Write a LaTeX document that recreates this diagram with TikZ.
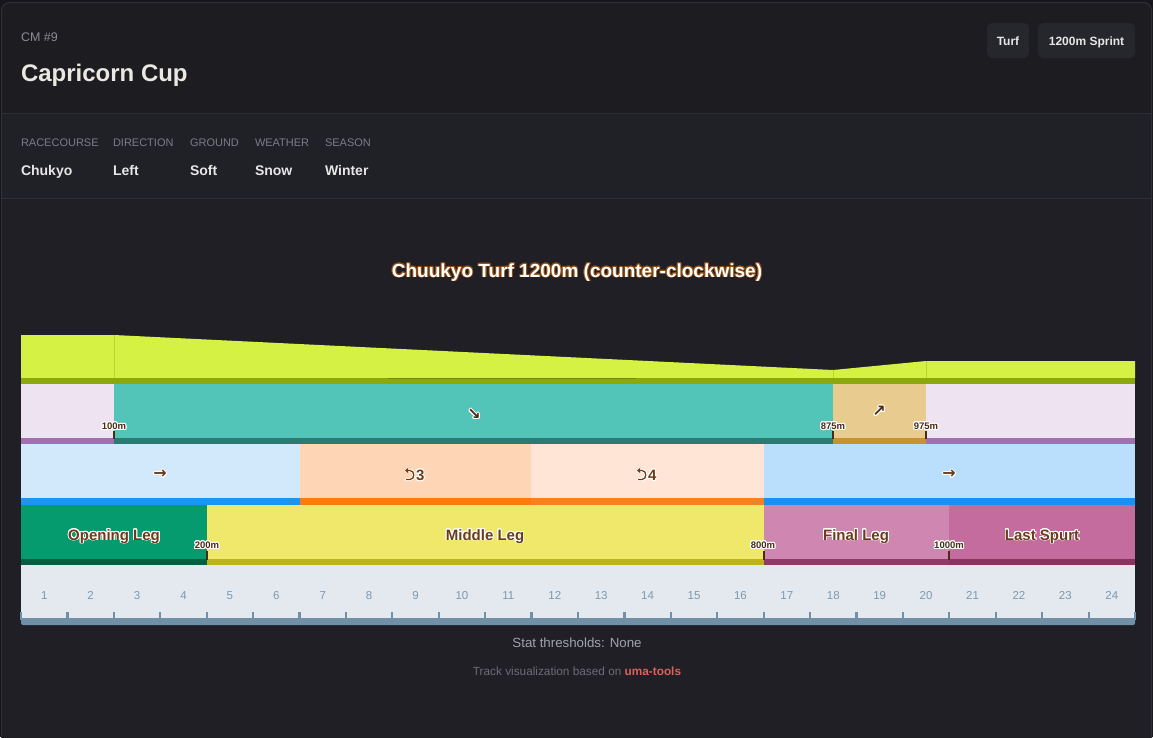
\documentclass[tikz,border=0pt]{standalone}
\usepackage{fontspec}
\setmainfont{Liberation Sans}
\newfontfamily\symf{DejaVu Sans}
\usepackage{contour}
\contourlength{0.9pt}
\contournumber{20}
\usetikzlibrary{arrows.meta}
\definecolor{outerbg}{HTML}{17171B}
\definecolor{cardbg}{HTML}{1C1C21}
\definecolor{infobg}{HTML}{202027}
\definecolor{mainbg}{HTML}{1F1F25}
\definecolor{cardline}{HTML}{2F2F37}
\definecolor{badgebg}{HTML}{26262D}
\definecolor{hdrgrey}{HTML}{8B8B93}
\definecolor{lblgrey}{HTML}{7C7C84}
\definecolor{valwhite}{HTML}{E6E6E6}
\definecolor{titlewhite}{HTML}{EBE8E2}
\definecolor{slopegreen}{HTML}{D5F244}
\definecolor{slopeline}{HTML}{B8D630}
\definecolor{olive}{HTML}{8CA80C}
\definecolor{olivedark}{HTML}{6F8A08}
\definecolor{lav}{HTML}{EEE4F1}
\definecolor{lavstrip}{HTML}{A46FB0}
\definecolor{teal}{HTML}{52C4B8}
\definecolor{tealstrip}{HTML}{2B7B73}
\definecolor{tan}{HTML}{E8CB8F}
\definecolor{tanstrip}{HTML}{C99230}
\definecolor{lblue}{HTML}{D2E9FC}
\definecolor{lbluestrip}{HTML}{1A96F2}
\definecolor{peach}{HTML}{FED6B5}
\definecolor{peachstrip}{HTML}{F97C0C}
\definecolor{lpeach}{HTML}{FEE5D5}
\definecolor{lpeachstrip}{HTML}{F5821F}
\definecolor{rblue}{HTML}{B9DFFC}
\definecolor{rbluestrip}{HTML}{1C8FF2}
\definecolor{green}{HTML}{069B6E}
\definecolor{greenstrip}{HTML}{065E42}
\definecolor{yellow}{HTML}{F0E86A}
\definecolor{yellowstrip}{HTML}{BCB41A}
\definecolor{pink}{HTML}{CF87B1}
\definecolor{pinkstrip}{HTML}{8F3B69}
\definecolor{dpink}{HTML}{C56C9F}
\definecolor{dpinkstrip}{HTML}{8A355F}
\definecolor{ruler}{HTML}{E3E9EE}
\definecolor{rulerline}{HTML}{7090A8}
\definecolor{rulernum}{HTML}{7D98B0}
\definecolor{brown}{HTML}{6B3C1C}
\definecolor{dbrown}{HTML}{4A2C14}
\definecolor{halo}{HTML}{8A4A10}
\definecolor{statgrey}{HTML}{A2A2AA}
\definecolor{footgrey}{HTML}{6C6C74}
\definecolor{umared}{HTML}{D9625E}
\tikzset{
  txt/.style={inner sep=0pt, outer sep=0pt},
  hdrsmall/.style={txt, anchor=base west, text=hdrgrey, font=\fontsize{12.5}{14}\selectfont},
  hdrbig/.style={txt, anchor=base west, text=titlewhite, font=\fontsize{24}{28}\selectfont\bfseries},
  badge/.style={txt, anchor=base, text=valwhite, font=\fontsize{12}{14}\selectfont\bfseries},
  infolbl/.style={txt, anchor=base west, text=lblgrey, font=\fontsize{11}{13}\selectfont},
  infoval/.style={txt, anchor=base west, text=valwhite, font=\fontsize{14}{16}\selectfont\bfseries},
  distlbl/.style={txt, anchor=base, text=dbrown, font=\fontsize{9.5}{11}\selectfont\bfseries},
  disttick/.style={draw=dbrown, line width=1.6pt},
  phaselbl/.style={txt, anchor=base, text=brown, font=\fontsize{15}{18}\selectfont\bfseries},
  symlbl/.style={txt, text=brown, font=\fontsize{16}{18}\selectfont\symf\bfseries},
  slopesym/.style={txt, text=dbrown, font=\fontsize{16}{18}\selectfont\symf\bfseries},
  cnum/.style={txt, anchor=base west, text=brown, font=\fontsize{15}{18}\selectfont\bfseries},
  uhalo/.style={draw=white, line width=3pt, line cap=round, line join=round},
  uturn/.style={draw=brown, line width=1.3pt, line join=round, {Triangle[length=3.2pt,width=5pt]}-},
  num/.style={txt, anchor=base, text=rulernum, font=\fontsize{11.5}{13}\selectfont},
  rtick/.style={draw=rulerline, line width=2.2pt},
}
\newcommand{\wh}[1]{\contour{white}{#1}}
\begin{document}
\begin{tikzpicture}[x=1pt,y=-1pt]
\useasboundingbox (0,0) rectangle (1153,737);
\clip (0,0) rectangle (1153,737);
% backgrounds
\fill[outerbg] (0,0) rectangle (1153,737);
\filldraw[fill=cardbg, draw=cardline, line width=1pt, rounded corners=8pt] (1.5,2.5) rectangle (1151.5,770);
\fill[infobg] (2,113) rectangle (1151,198);
\fill[mainbg] (2,198) rectangle (1151,737);
\draw[cardline, line width=1pt] (2,113) -- (1151,113);
\draw[cardline, line width=1pt] (2,198) -- (1151,198);
% header
\node[hdrsmall] (cm) at (21,41.5) {CM \#9};
\node[hdrbig] (title) at (21,81.5) {Capricorn Cup};
\fill[badgebg, rounded corners=5pt] (987,23) rectangle (1029,58);
\node[badge] (turf) at (1008,45.3) {Turf};
\fill[badgebg, rounded corners=5pt] (1038,23) rectangle (1135,58);
\node[badge] (sprint) at (1086.5,45.3) {1200m Sprint};
% info
\node[infolbl] (l1) at (21,146) {RACECOURSE};
\node[infolbl] (l2) at (113,146) {DIRECTION};
\node[infolbl] (l3) at (190,146) {GROUND};
\node[infolbl] (l4) at (255,146) {WEATHER};
\node[infolbl] (l5) at (325,146) {SEASON};
\node[infoval] (v1) at (21,175) {Chukyo};
\node[infoval] (v2) at (113,175) {Left};
\node[infoval] (v3) at (190,175) {Soft};
\node[infoval] (v4) at (255,175) {Snow};
\node[infoval] (v5) at (325,175) {Winter};
% chart title
\node[txt, anchor=base, text=white, font=\fontsize{19}{22}\selectfont\bfseries] (ctitle) at (577,277) {\contour{halo}{Chuukyo Turf 1200m (counter-clockwise)}};
% slope profile
\fill[slopegreen] (21,335) -- (114,335) -- (833,370) -- (926,361) -- (1135,361) -- (1135,378) -- (21,378) -- cycle;
\draw[slopeline, line width=0.8pt] (114,335) -- (114,378);
\draw[slopeline, line width=0.8pt] (833,370) -- (833,378);
\draw[slopeline, line width=0.8pt] (926,361) -- (926,378);
\fill[olive] (21,378) rectangle (1135,384);
\draw[olivedark, line width=1.2pt] (388,378.6) -- (636,378.6);
% slope row
\fill[lav] (21,384) rectangle (114,438);   \fill[lavstrip] (21,438) rectangle (114,444);
\fill[teal] (114,384) rectangle (833,438); \fill[tealstrip] (114,438) rectangle (833,444);
\fill[tan] (833,384) rectangle (926,438);  \fill[tanstrip] (833,438) rectangle (926,444);
\fill[lav] (926,384) rectangle (1135,438); \fill[lavstrip] (926,438) rectangle (1135,444);
\node[slopesym] (down) at (474,415) {\wh{↘}};
\node[slopesym] (up) at (879,412) {\wh{↗}};
\draw[disttick] (114,431) -- (114,439);
\draw[disttick] (833,431) -- (833,439);
\draw[disttick] (926,431) -- (926,439);
\node[distlbl] (d100) at (114,429.5) {\wh{100m}};
\node[distlbl] (d875) at (833,429.5) {\wh{875m}};
\node[distlbl] (d975) at (926,429.5) {\wh{975m}};
% corner row
\fill[lblue] (21,444) rectangle (300,498);  \fill[lbluestrip] (21,498) rectangle (300,505);
\fill[peach] (300,444) rectangle (531,498); \fill[peachstrip] (300,498) rectangle (531,505);
\fill[lpeach] (531,444) rectangle (764,498);\fill[lpeachstrip] (531,498) rectangle (764,505);
\fill[rblue] (764,444) rectangle (1135,498);\fill[rbluestrip] (764,498) rectangle (1135,505);
\node[symlbl] (s1) at (160,475) {\wh{→}};
\node[symlbl] (s2) at (949,475) {\wh{→}};
% corner 3 u-turn symbol and number
\draw[uhalo] (406,470.5) -- (410,470.5) .. controls (415,470.5) and (415,479.5) .. (410,479.5) -- (406,479.5);
\draw[uturn] (405,470.5) -- (410,470.5) .. controls (415,470.5) and (415,479.5) .. (410,479.5) -- (406,479.5);
\node[cnum] (c3) at (416,480.5) {\wh{3}};
% corner 4
\draw[uhalo] (638,470.5) -- (642,470.5) .. controls (647,470.5) and (647,479.5) .. (642,479.5) -- (638,479.5);
\draw[uturn] (637,470.5) -- (642,470.5) .. controls (647,470.5) and (647,479.5) .. (642,479.5) -- (638,479.5);
\node[cnum] (c4) at (648,480.5) {\wh{4}};
% phase row
\fill[green] (21,505) rectangle (207,559);   \fill[greenstrip] (21,559) rectangle (207,565);
\fill[yellow] (207,505) rectangle (764,559); \fill[yellowstrip] (207,559) rectangle (764,565);
\fill[pink] (764,505) rectangle (949,559);   \fill[pinkstrip] (764,559) rectangle (949,565);
\fill[dpink] (949,505) rectangle (1135,559); \fill[dpinkstrip] (949,559) rectangle (1135,565);
\node[phaselbl] (p1) at (114,540) {\wh{Opening Leg}};
\node[phaselbl] (p2) at (485,540) {\wh{Middle Leg}};
\node[phaselbl] (p3) at (856,540) {\wh{Final Leg}};
\node[phaselbl] (p4) at (1042,540) {\wh{Last Spurt}};
\draw[disttick] (207,551) -- (207,560);
\draw[disttick] (764,551) -- (764,560);
\draw[disttick] (949,551) -- (949,560);
\node[distlbl] (d200) at (207,548.5) {\wh{200m}};
\node[distlbl] (d800) at (763,548.5) {\wh{800m}};
\node[distlbl] (d1000) at (949,548.5) {\wh{1000m}};
% ruler
\fill[ruler] (21,565) rectangle (1135,620);
\fill[rulerline, rounded corners=2pt] (21,618) rectangle (1135,625);
\fill[rulerline] (21,618) rectangle (1135,621);
\foreach \i in {0,...,24} \draw[rtick] ({21+46.4167*\i},612) -- ({21+46.4167*\i},620);
\foreach \i in {1,...,24} \node[num] (n\i) at ({21+46.4167*(\i-0.5)},599) {\i};
% footer
\node[txt, anchor=base, text=statgrey, font=\fontsize{13.3}{15}\selectfont] (stat) at (577,647.5) {Stat thresholds: None};
\node[txt, anchor=base, text=footgrey, font=\fontsize{11.8}{13}\selectfont] (foot) at (577,675) {Track visualization based on \textcolor{umared}{\bfseries uma-tools}};
\end{tikzpicture}
\end{document}
